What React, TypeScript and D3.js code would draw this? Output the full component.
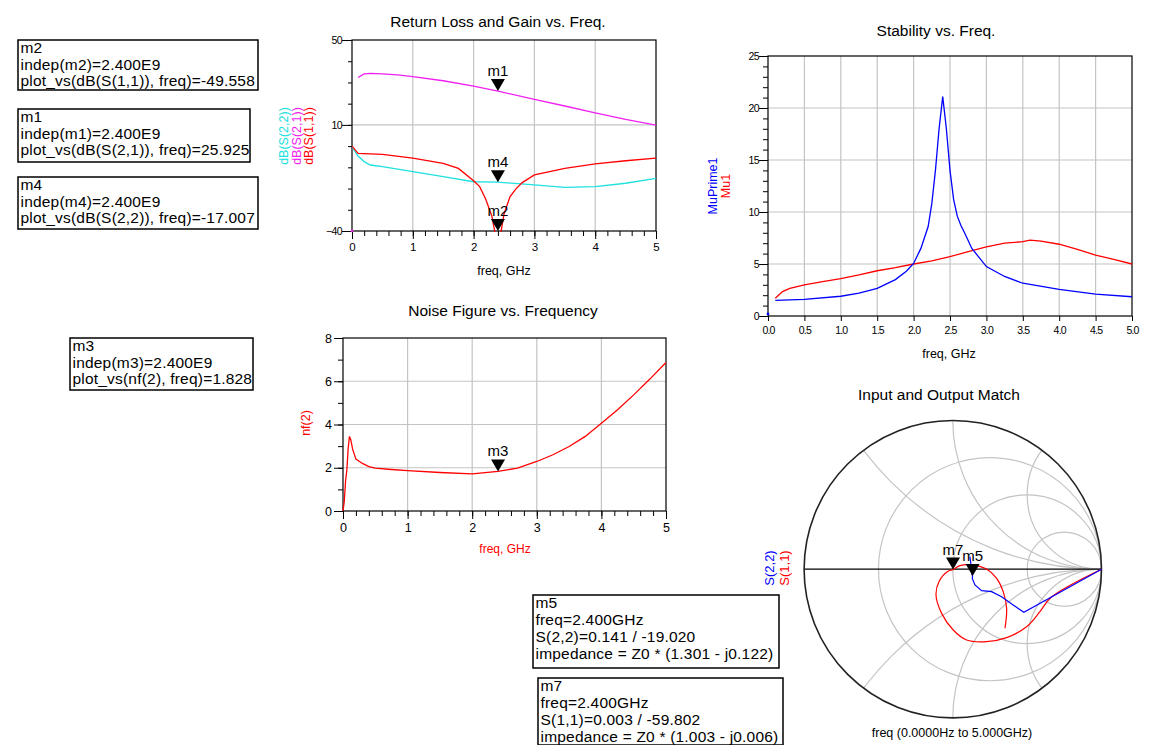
/** @format */

import React, { useEffect, useRef } from 'react';
import * as d3 from 'd3';

// --- Return Loss and Gain vs. Freq. (dB, freq in GHz) ---
const s11Freq = [0, 0.1, 0.5, 1.0, 1.5, 1.75, 2.0, 2.1, 2.2, 2.3, 2.35, 2.4, 2.45, 2.5, 2.6, 2.7, 2.8, 3.0, 3.5, 4.0, 4.5, 5.0];
const s11dB = [0, -3.4, -3.9, -5.7, -8.1, -10.5, -16.3, -19.1, -25.0, -33.0, -40.5, -49.558, -40.5, -32.0, -23.8, -20.0, -17.2, -13.6, -10.5, -8.4, -6.9, -5.7];
const s21Freq = [0.1, 0.2, 0.3, 0.5, 0.75, 1.0, 1.5, 2.0, 2.4, 3.0, 3.5, 4.0, 4.5, 5.0];
const s21dB = [32.3, 34.0, 34.3, 34.0, 33.6, 32.7, 30.8, 28.3, 25.925, 22.0, 18.9, 15.7, 12.6, 9.9];
const s22Freq = [0, 0.05, 0.1, 0.2, 0.3, 0.5, 1.0, 1.5, 2.0, 2.4, 3.0, 3.5, 4.0, 4.5, 5.0];
const s22dB = [0, -2.6, -4.7, -7.3, -8.9, -9.7, -12.0, -14.4, -16.8, -17.007, -18.3, -19.4, -19.1, -17.5, -15.2];
const s21Dc = [0, -40]; // DC point, off scale
const rlYTicks = [50, 10, -40];

// --- Stability vs. Freq. ---
const muFreq = [0.1, 0.2, 0.3, 0.5, 0.75, 1.0, 1.25, 1.5, 1.75, 2.0, 2.25, 2.5, 2.75, 3.0, 3.25, 3.5, 3.6, 3.75, 4.0, 4.25, 4.5, 4.75, 5.0];
const mu1 = [1.7, 2.35, 2.65, 3.0, 3.3, 3.6, 3.95, 4.35, 4.65, 5.0, 5.3, 5.7, 6.2, 6.65, 7.0, 7.15, 7.3, 7.2, 6.9, 6.4, 5.85, 5.45, 5.0];
const muPrimeFreq = [0.1, 0.5, 1.0, 1.25, 1.5, 1.75, 1.9, 2.0, 2.1, 2.2, 2.25, 2.3, 2.35, 2.4, 2.45, 2.5, 2.55, 2.6, 2.65, 2.7, 2.8, 3.0, 3.25, 3.5, 4.0, 4.5, 5.0];
const muPrime1 = [1.5, 1.6, 1.9, 2.2, 2.65, 3.5, 4.3, 5.05, 6.5, 8.6, 10.8, 14.0, 18.0, 21.1, 18.0, 14.0, 11.2, 9.6, 8.7, 8.0, 6.5, 4.75, 3.8, 3.15, 2.55, 2.1, 1.85];
const muPrimeDc = [0, 0.2];
const stXTicks = [0, 0.5, 1, 1.5, 2, 2.5, 3, 3.5, 4, 4.5, 5];
const stYTicks = [0, 5, 10, 15, 20, 25];

// --- Noise Figure vs. Frequency ---
const nfFreq = [0, 0.02, 0.04, 0.06, 0.08, 0.1, 0.12, 0.15, 0.2, 0.3, 0.4, 0.5, 0.75, 1.0, 1.5, 2.0, 2.4, 2.7, 3.0, 3.25, 3.5, 3.75, 4.0, 4.25, 4.5, 4.75, 5.0];
const nf2 = [0, 0.45, 1.4, 1.9, 2.9, 3.45, 3.3, 2.85, 2.4, 2.2, 2.05, 1.98, 1.92, 1.87, 1.78, 1.72, 1.828, 1.98, 2.29, 2.6, 2.98, 3.45, 4.06, 4.68, 5.37, 6.1, 6.87];
const nfYTicks = [0, 2, 4, 6, 8];

// --- Input and Output Match (reflection coefficient, re/im) ---
const s11Gamma: [number, number][] = [
	[1, 0], [0.66, -0.19], [0.586, -0.286], [0.496, -0.387], [0.362, -0.46], [0.227, -0.487],
	[0.093, -0.476], [0.003, -0.409], [-0.075, -0.297], [-0.113, -0.174], [-0.091, -0.08],
	[-0.03, -0.012], [0.0015, -0.0026], [0.048, 0.024], [0.138, 0.028], [0.227, 0.001],
	[0.295, -0.062], [0.339, -0.151], [0.362, -0.263], [0.351, -0.397],
];
const s22Gamma: [number, number][] = [
	[1, 0], [0.478, -0.29], [0.406, -0.241], [0.328, -0.185], [0.261, -0.151], [0.194, -0.144],
	[0.149, -0.106], [0.131, -0.062], [0.133, -0.046], [0.127, -0.028], [0.12, 0.05], [0.115, 0.084],
];
const smithR = [1 / 3, 1, 3];
const smithX = [0.5, 1, 2];

// --- Markers ---
const rlMarkers = [
	{ name: 'm2', trace: 'dB(S(1,1))', freq: 2.4, value: -49.558 },
	{ name: 'm1', trace: 'dB(S(2,1))', freq: 2.4, value: 25.925 },
	{ name: 'm4', trace: 'dB(S(2,2))', freq: 2.4, value: -17.007 },
];
const nfMarkers = [{ name: 'm3', trace: 'nf(2)', freq: 2.4, value: 1.828 }];
const smithMarkers = [
	{ name: 'm5', param: 'S(2,2)', freq: 2.4, mag: 0.141, ang: -19.02, zRe: 1.301, zIm: -0.122 },
	{ name: 'm7', param: 'S(1,1)', freq: 2.4, mag: 0.003, ang: -59.802, zRe: 1.003, zIm: -0.006 },
];

const FONT = 'Arial, "Liberation Sans", Helvetica, sans-serif';
const RED = '#ff0000';
const BLUE = '#0000ff';
const MAGENTA = '#f020f0';
const CYAN = '#20e0e0';
const GRID = '#c4c4c4';

type G = d3.Selection<SVGGElement, unknown, null, undefined>;
interface Box {
	left: number;
	right: number;
	top: number;
	bottom: number;
}

const styleAxis = (sel: G, size: number) => {
	sel.select('.domain').remove();
	sel.selectAll('line').attr('stroke', '#000');
	sel
		.selectAll('text')
		.attr('font-size', size)
		.attr('font-family', FONT)
		.attr('fill', '#000');
};

const drawGrid = (
	g: G,
	b: Box,
	x: d3.ScaleLinear<number, number>,
	y: d3.ScaleLinear<number, number>,
	xs: number[],
	ys: number[],
) => {
	g.selectAll(null)
		.data(xs)
		.enter()
		.append('line')
		.attr('x1', (d) => x(d))
		.attr('x2', (d) => x(d))
		.attr('y1', b.top)
		.attr('y2', b.bottom)
		.attr('stroke', GRID)
		.attr('stroke-width', 1.2);
	g.selectAll(null)
		.data(ys)
		.enter()
		.append('line')
		.attr('x1', b.left)
		.attr('x2', b.right)
		.attr('y1', (d) => y(d))
		.attr('y2', (d) => y(d))
		.attr('stroke', GRID)
		.attr('stroke-width', 1.2);
};

const drawFrame = (g: G, b: Box) => {
	g.append('rect')
		.attr('x', b.left)
		.attr('y', b.top)
		.attr('width', b.right - b.left)
		.attr('height', b.bottom - b.top)
		.attr('fill', 'none')
		.attr('stroke', '#000')
		.attr('stroke-width', 1.2);
};

const drawMarker = (g: G, px: number, py: number, name: string) => {
	g.append('path')
		.attr('d', `M${px - 7},${py - 12}L${px + 7},${py - 12}L${px},${py}Z`)
		.attr('fill', '#000');
	g.append('text')
		.attr('x', px)
		.attr('y', py - 15)
		.attr('text-anchor', 'middle')
		.attr('font-size', 15)
		.text(name);
};

const rotatedLabel = (g: G, x: number, y: number, text: string, color: string, size: number) => {
	g.append('text')
		.attr('transform', `translate(${x},${y}) rotate(-90)`)
		.attr('text-anchor', 'middle')
		.attr('dominant-baseline', 'central')
		.attr('fill', color)
		.attr('font-size', size)
		.text(text);
};

const title = (g: G, x: number, y: number, text: string, size = 15.5, color = '#000') => {
	g.append('text')
		.attr('x', x)
		.attr('y', y)
		.attr('text-anchor', 'middle')
		.attr('font-size', size)
		.attr('fill', color)
		.text(text);
};

const markerBox = (g: G, x: number, y: number, w: number, h: number, lines: string[], lineH: number) => {
	g.append('rect')
		.attr('x', x)
		.attr('y', y)
		.attr('width', w)
		.attr('height', h)
		.attr('fill', '#fff')
		.attr('stroke', '#000')
		.attr('stroke-width', 1.5);
	lines.forEach((t, i) => {
		g.append('text')
			.attr('x', x + 2.5)
			.attr('y', y + 13 + i * lineH)
			.attr('font-size', 15.5)
			.attr('letter-spacing', 0.2)
			.text(t);
	});
};

const pairs = (xs: number[], ys: number[]) => xs.map((f, i) => [f, ys[i]] as [number, number]);

const App: React.FC = () => {
	const ref = useRef<SVGSVGElement>(null);

	useEffect(() => {
		if (!ref.current) return;
		const svg = d3.select(ref.current);
		svg.selectAll('*').remove();
		const root = svg.append('g').attr('font-family', FONT) as unknown as G;
		const defs = svg.append('defs');

		// ---------- Return Loss and Gain ----------
		const rl: Box = { left: 352, right: 656, top: 40, bottom: 231 };
		const xRL = d3.scaleLinear().domain([0, 5]).range([rl.left, rl.right]);
		const yRL = d3.scaleLinear().domain([-40, 50]).range([rl.bottom, rl.top]);
		const gRL = root.append('g');
		defs.append('clipPath').attr('id', 'clip-rl').append('rect')
			.attr('x', rl.left).attr('y', rl.top - 1)
			.attr('width', rl.right - rl.left).attr('height', rl.bottom - rl.top + 2);

		drawGrid(gRL, rl, xRL, yRL, [1, 2, 3, 4], [10]);
		styleAxis(
			gRL.append('g').attr('transform', `translate(${rl.left},0)`)
				.call(d3.axisLeft(yRL).tickValues(d3.range(-40, 51, 10)).tickSize(4).tickFormat(() => '')),
			10,
		);
		const rlY = gRL.append('g').attr('transform', `translate(${rl.left},0)`)
			.call(d3.axisLeft(yRL).tickValues(rlYTicks).tickSize(10).tickPadding(0).tickFormat(d3.format('d')));
		styleAxis(rlY, 10.5);
		rlY.selectAll('text').attr('letter-spacing', -0.6);
		styleAxis(
			gRL.append('g').attr('transform', `translate(0,${rl.bottom})`)
				.call(d3.axisBottom(xRL).tickValues(d3.range(0, 5.01, 0.2)).tickSize(5).tickFormat(() => '')),
			10,
		);
		styleAxis(
			gRL.append('g').attr('transform', `translate(0,${rl.bottom})`)
				.call(d3.axisBottom(xRL).tickValues(d3.range(0, 6)).tickSize(8).tickPadding(4).tickFormat(d3.format('d'))),
			11.5,
		);
		drawFrame(gRL, rl);

		const lineRL = d3.line<[number, number]>().x((d) => xRL(d[0])).y((d) => yRL(d[1]));
		const rlTraces = [
			{ pts: pairs(s22Freq, s22dB), color: CYAN },
			{ pts: pairs(s11Freq, s11dB), color: RED },
			{ pts: pairs(s21Freq, s21dB), color: MAGENTA },
		];
		gRL.append('g').attr('clip-path', 'url(#clip-rl)')
			.selectAll('path').data(rlTraces).enter().append('path')
			.attr('d', (d) => lineRL(d.pts))
			.attr('fill', 'none')
			.attr('stroke', (d) => d.color)
			.attr('stroke-width', 1.3);
		gRL.append('circle').attr('cx', xRL(s21Dc[0])).attr('cy', yRL(s21Dc[1])).attr('r', 1.3).attr('fill', MAGENTA);

		rlMarkers.forEach((m) => {
			const v = Math.max(-40, Math.min(50, m.value));
			drawMarker(gRL, xRL(m.freq), yRL(v), m.name);
		});
		title(gRL, 498, 27, 'Return Loss and Gain vs. Freq.');
		title(gRL, 504, 275, 'freq, GHz', 12.5);
		rotatedLabel(gRL, 284, 136, 'dB(S(2,2))', CYAN, 12.5);
		rotatedLabel(gRL, 296.5, 136, 'dB(S(2,1))', MAGENTA, 12.5);
		rotatedLabel(gRL, 309, 136, 'dB(S(1,1))', RED, 12.5);

		// ---------- Stability ----------
		const st: Box = { left: 768, right: 1132, top: 56, bottom: 316 };
		const xST = d3.scaleLinear().domain([0, 5]).range([st.left, st.right]);
		const yST = d3.scaleLinear().domain([0, 25]).range([st.bottom, st.top]);
		const gST = root.append('g');
		drawGrid(gST, st, xST, yST, stXTicks.slice(1, -1), stYTicks.slice(1, -1));
		styleAxis(
			gST.append('g').attr('transform', `translate(${st.left},0)`)
				.call(d3.axisLeft(yST).tickValues(d3.range(0, 26, 1)).tickSize(5).tickFormat(() => '')),
			10,
		);
		const stY = gST.append('g').attr('transform', `translate(${st.left},0)`)
			.call(d3.axisLeft(yST).tickValues(stYTicks).tickSize(9).tickPadding(0).tickFormat(d3.format('d')));
		styleAxis(stY, 10.5);
		stY.selectAll('text').attr('letter-spacing', -0.6);
		const stX = gST.append('g').attr('transform', `translate(0,${st.bottom})`)
			.call(d3.axisBottom(xST).tickValues(stXTicks).tickSize(5).tickPadding(6).tickFormat(d3.format('.1f')));
		styleAxis(stX, 10.5);
		stX.selectAll('text').attr('letter-spacing', -0.8);
		drawFrame(gST, st);

		const lineST = d3.line<[number, number]>().x((d) => xST(d[0])).y((d) => yST(d[1]));
		gST.append('path').attr('d', lineST(pairs(muFreq, mu1)))
			.attr('fill', 'none').attr('stroke', RED).attr('stroke-width', 1.3);
		gST.append('path').attr('d', lineST(pairs(muPrimeFreq, muPrime1)))
			.attr('fill', 'none').attr('stroke', BLUE).attr('stroke-width', 1.3);
		gST.append('circle').attr('cx', xST(muPrimeDc[0])).attr('cy', yST(muPrimeDc[1])).attr('r', 1.4).attr('fill', BLUE);
		title(gST, 936, 36, 'Stability vs. Freq.');
		title(gST, 949, 358, 'freq, GHz', 12.5);
		rotatedLabel(gST, 712.5, 186, 'MuPrime1', BLUE, 12.5);
		rotatedLabel(gST, 726, 186, 'Mu1', RED, 12.5);

		// ---------- Noise Figure ----------
		const nf: Box = { left: 343, right: 666, top: 338, bottom: 511 };
		const xNF = d3.scaleLinear().domain([0, 5]).range([nf.left, nf.right]);
		const yNF = d3.scaleLinear().domain([0, 8]).range([nf.bottom, nf.top]);
		const gNF = root.append('g');
		drawGrid(gNF, nf, xNF, yNF, [1, 2, 3, 4], [2, 4, 6]);
		styleAxis(
			gNF.append('g').attr('transform', `translate(${nf.left},0)`)
				.call(d3.axisLeft(yNF).tickValues(d3.range(0, 9, 1)).tickSize(5).tickFormat(() => '')),
			10,
		);
		styleAxis(
			gNF.append('g').attr('transform', `translate(${nf.left},0)`)
				.call(d3.axisLeft(yNF).tickValues(nfYTicks).tickSize(9).tickPadding(2).tickFormat(d3.format('d'))),
			12.5,
		);
		styleAxis(
			gNF.append('g').attr('transform', `translate(0,${nf.bottom})`)
				.call(d3.axisBottom(xNF).tickValues(d3.range(0, 5.01, 0.2)).tickSize(5).tickFormat(() => '')),
			10,
		);
		styleAxis(
			gNF.append('g').attr('transform', `translate(0,${nf.bottom})`)
				.call(d3.axisBottom(xNF).tickValues(d3.range(0, 6)).tickSize(8).tickPadding(4).tickFormat(d3.format('d'))),
			12.5,
		);
		drawFrame(gNF, nf);
		const lineNF = d3.line<[number, number]>().x((d) => xNF(d[0])).y((d) => yNF(d[1]));
		gNF.append('path').attr('d', lineNF(pairs(nfFreq, nf2)))
			.attr('fill', 'none').attr('stroke', RED).attr('stroke-width', 1.3);
		nfMarkers.forEach((m) => drawMarker(gNF, xNF(m.freq), yNF(m.value), m.name));
		title(gNF, 503, 316, 'Noise Figure vs. Frequency');
		title(gNF, 505, 553, 'freq, GHz', 12, RED);
		rotatedLabel(gNF, 306, 423, 'nf(2)', RED, 12.5);

		// ---------- Smith chart ----------
		const sc = { cx: 952.8, cy: 569.2, r: 148.7 };
		const gx = d3.scaleLinear().domain([-1, 1]).range([sc.cx - sc.r, sc.cx + sc.r]);
		const gy = d3.scaleLinear().domain([-1, 1]).range([sc.cy + sc.r, sc.cy - sc.r]);
		const gSM = root.append('g');
		defs.append('clipPath').attr('id', 'clip-smith').append('circle')
			.attr('cx', sc.cx).attr('cy', sc.cy).attr('r', sc.r);
		const grid = gSM.append('g').attr('clip-path', 'url(#clip-smith)');
		grid.selectAll(null).data(smithR).enter().append('circle')
			.attr('cx', (r) => gx(r / (1 + r)))
			.attr('cy', gy(0))
			.attr('r', (r) => sc.r / (1 + r))
			.attr('fill', 'none').attr('stroke', GRID).attr('stroke-width', 1.2);
		grid.selectAll(null).data(smithX.flatMap((x) => [x, -x])).enter().append('circle')
			.attr('cx', gx(1))
			.attr('cy', (x) => gy(1 / x))
			.attr('r', (x) => sc.r / Math.abs(x))
			.attr('fill', 'none').attr('stroke', GRID).attr('stroke-width', 1.2);
		gSM.append('line').attr('x1', gx(-1)).attr('x2', gx(1)).attr('y1', gy(0)).attr('y2', gy(0))
			.attr('stroke', '#000').attr('stroke-width', 1.2);
		gSM.append('circle').attr('cx', sc.cx).attr('cy', sc.cy).attr('r', sc.r)
			.attr('fill', 'none').attr('stroke', '#222').attr('stroke-width', 1.6);

		const lineSM = d3.line<[number, number]>().x((d) => gx(d[0])).y((d) => gy(d[1]));
		gSM.append('path').attr('d', lineSM.curve(d3.curveCatmullRom.alpha(0.5))(s11Gamma))
			.attr('fill', 'none').attr('stroke', RED).attr('stroke-width', 1.2);
		gSM.append('path').attr('d', lineSM.curve(d3.curveLinear)(s22Gamma))
			.attr('fill', 'none').attr('stroke', BLUE).attr('stroke-width', 1.2);
		smithMarkers.forEach((m) => {
			const a = (m.ang * Math.PI) / 180;
			drawMarker(gSM, gx(m.mag * Math.cos(a)), gy(m.mag * Math.sin(a)), m.name);
		});
		title(gSM, 939, 400, 'Input and Output Match');
		title(gSM, 952, 737, 'freq (0.0000Hz to 5.000GHz)', 12.5);
		rotatedLabel(gSM, 769, 568, 'S(2,2)', BLUE, 13);
		rotatedLabel(gSM, 784, 568, 'S(1,1)', RED, 13);

		// ---------- Marker readouts ----------
		const gBox = root.append('g');
		const rlBoxes = [
			[18, 40, 240, 50],
			[18, 109, 232, 53],
			[18, 177, 240, 52],
		];
		rlMarkers.forEach((m, i) => {
			const [x, y, w, h] = rlBoxes[i];
			markerBox(gBox, x, y, w, h, [
				m.name,
				`indep(${m.name})=${(m.freq * 1e9).toExponential(3).replace('e+', 'E')}`,
				`plot_vs(${m.trace}, freq)=${m.value.toFixed(3)}`,
			], 16.5);
		});
		nfMarkers.forEach((m) => {
			markerBox(gBox, 70, 338, 183, 52, [
				m.name,
				`indep(${m.name})=${(m.freq * 1e9).toExponential(3).replace('e+', 'E')}`,
				`plot_vs(${m.trace}, freq)=${m.value.toFixed(3)}`,
			], 16.5);
		});
		const smBoxes = [
			[533, 595, 246, 73],
			[538, 678, 245, 67],
		];
		smithMarkers.forEach((m, i) => {
			const [x, y, w, h] = smBoxes[i];
			const sign = m.zIm < 0 ? '-' : '+';
			markerBox(gBox, x, y, w, h, [
				m.name,
				`freq=${m.freq.toFixed(3)}GHz`,
				`${m.param}=${m.mag.toFixed(3)} / ${m.ang.toFixed(3)}`,
				`impedance = Z0 * (${m.zRe.toFixed(3)} ${sign} j${Math.abs(m.zIm).toFixed(3)})`,
			], 17);
		});
	}, []);

	return (
		<svg
			ref={ref}
			width={1154}
			height={745}
			style={{ position: 'absolute', left: 0, top: 0, background: '#fff' }}
		/>
	);
};

export default App;
